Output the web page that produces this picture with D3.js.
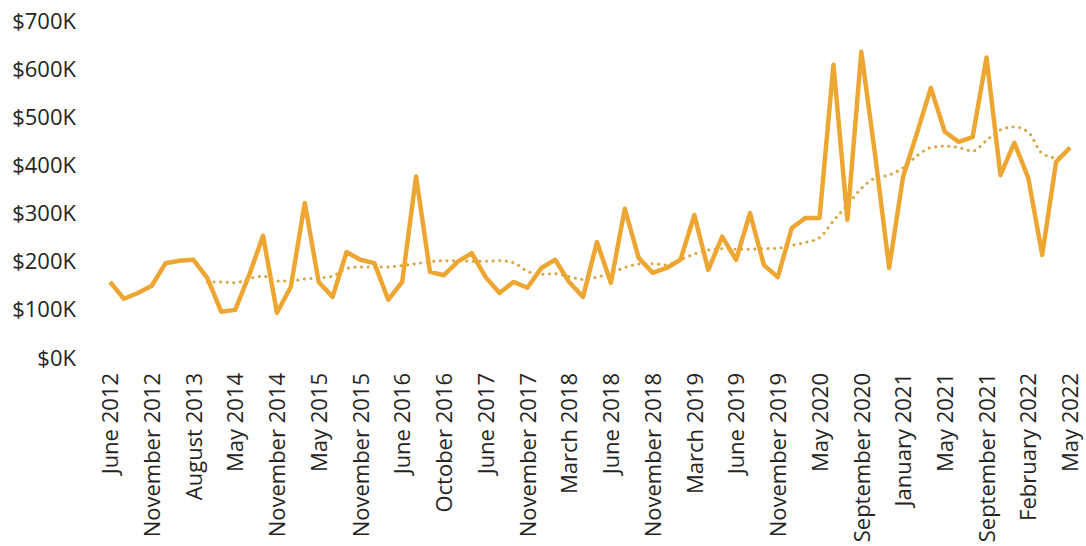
<!DOCTYPE html>
<html>
<head>
<meta charset="utf-8">
<script src="https://cdn.jsdelivr.net/npm/d3@7"></script>
<style>
  body { margin: 0; background: #fff; }
  text { font-family: "Open Sans", "Noto Sans", sans-serif; fill: #252423; }
</style>
</head>
<body>
<script>
// month categories (only every third one is labelled on the axis)
var months = [
  "June 2012", "July 2012", "September 2012",
  "November 2012", "January 2013", "April 2013",
  "August 2013", "November 2013", "February 2014",
  "May 2014", "July 2014", "September 2014",
  "November 2014", "January 2015", "March 2015",
  "May 2015", "July 2015", "September 2015",
  "November 2015", "January 2016", "April 2016",
  "June 2016", "July 2016", "August 2016",
  "October 2016", "December 2016", "March 2017",
  "June 2017", "August 2017", "September 2017",
  "November 2017", "December 2017", "January 2018",
  "March 2018", "April 2018", "May 2018",
  "June 2018", "August 2018", "September 2018",
  "November 2018", "December 2018", "January 2019",
  "March 2019", "April 2019", "May 2019",
  "June 2019", "July 2019", "September 2019",
  "November 2019", "January 2020", "March 2020",
  "May 2020", "June 2020", "July 2020",
  "September 2020", "October 2020", "November 2020",
  "January 2021", "February 2021", "March 2021",
  "May 2021", "June 2021", "July 2021",
  "September 2021", "October 2021", "December 2021",
  "February 2022", "March 2022", "April 2022",
  "May 2022"
];

// monthly sales ($K)
var sales = [
  158, 123, 135, 150, 197, 202, 204, 166, 96, 100,
  172, 254, 94, 148, 322, 158, 127, 220, 204, 197,
  121, 158, 377, 179, 172, 200, 218, 168, 135, 158,
  146, 187, 204, 158, 127, 241, 156, 310, 208, 177,
  187, 204, 297, 183, 252, 204, 301, 193, 168, 270,
  291, 291, 609, 287, 636, 420, 187, 376, 467, 561,
  470, 449, 459, 624, 380, 447, 374, 214, 407, 437
];

// dotted trend ($K), starts at the 8th month
var trend = [
  null, null, null, null, null, null, null, 158, 158, 156,
  165, 170, 160, 160, 164, 166, 170, 186, 189, 189,
  189, 192, 196, 200, 202, 202, 201, 201, 202, 198,
  180, 174, 175, 169, 163, 168, 176, 188, 195, 196,
  193, 204, 216, 224, 227, 226, 226, 227, 228, 234,
  240, 250, 285, 318, 352, 374, 380, 395, 420, 437,
  440, 437, 430, 452, 474, 480, 469, 425, 416, 437
];

var yTicks = [0, 100, 200, 300, 400, 500, 600, 700];

var width = 1086, height = 546;
var margin = {top: 21, right: 16, bottom: 188, left: 110};

var svg = d3.select("body").append("svg")
    .attr("width", width)
    .attr("height", height);

var x = d3.scalePoint()
    .domain(months)
    .range([margin.left, width - margin.right]);

var y = d3.scaleLinear()
    .domain([0, 700])
    .range([height - margin.bottom, margin.top]);

// y axis labels
var yAxis = svg.append("g")
    .attr("transform", "translate(76,0)")
    .call(d3.axisLeft(y).tickValues(yTicks).tickSize(0).tickPadding(0)
      .tickFormat(function(d) { return "$" + d + "K"; }));
yAxis.select(".domain").remove();
yAxis.selectAll("text")
    .style("font-size", "22px")
    .attr("fill", "#252423");

// x axis labels, every third month
var xAxis = svg.append("g")
    .attr("transform", "translate(0," + (height - margin.bottom + 15) + ")")
    .call(d3.axisBottom(x).tickSize(0)
      .tickValues(months.filter(function(d, i) { return i % 3 === 0; })));
xAxis.select(".domain").remove();
xAxis.selectAll("text")
    .style("font-size", "22px")
    .attr("fill", "#252423")
    .attr("text-anchor", "end")
    .attr("transform", "rotate(-90)")
    .attr("x", 0)
    .attr("y", 0)
    .attr("dy", "0.35em");

var idx = d3.range(months.length);

// trend line
var trendLine = d3.line()
    .defined(function(i) { return trend[i] != null; })
    .x(function(i) { return x(months[i]); })
    .y(function(i) { return y(trend[i]); })
    .curve(d3.curveMonotoneX);

svg.append("path")
    .datum(idx)
    .attr("fill", "none")
    .attr("stroke", "#D9A441")
    .attr("stroke-width", 3)
    .attr("stroke-linecap", "round")
    .attr("stroke-dasharray", "0.1,6.5")
    .attr("d", trendLine);

// sales line
var salesLine = d3.line()
    .x(function(i) { return x(months[i]); })
    .y(function(i) { return y(sales[i]); });

svg.append("path")
    .datum(idx)
    .attr("fill", "none")
    .attr("stroke", "#EDA632")
    .attr("stroke-width", 4.5)
    .attr("stroke-linejoin", "round")
    .attr("d", salesLine);
</script>
</body>
</html>
